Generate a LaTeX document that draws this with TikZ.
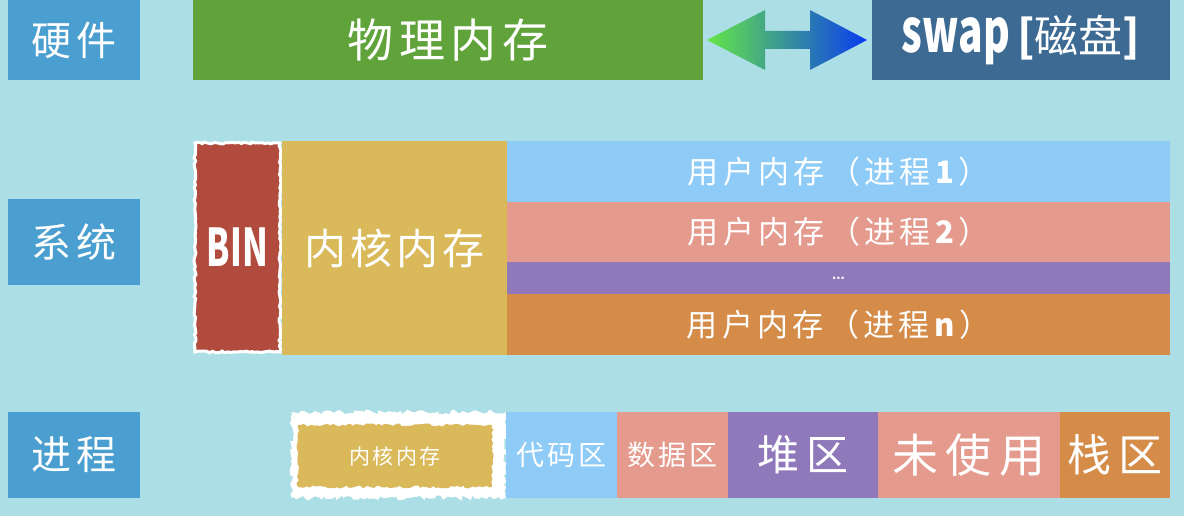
\documentclass[tikz,border=0pt]{standalone}
\usepackage{fontspec}
\newfontfamily\cjk{Noto Sans CJK SC}
\usetikzlibrary{positioning,calc,decorations.pathmorphing}

\definecolor{bgcyan}{RGB}{172,222,229}
\definecolor{tagblue}{RGB}{74,159,208}
\definecolor{physgreen}{RGB}{95,163,58}
\definecolor{swapblue}{RGB}{60,106,147}
\definecolor{binred}{RGB}{177,75,62}
\definecolor{kernyellow}{RGB}{217,185,90}
\definecolor{userblue}{RGB}{142,203,247}
\definecolor{userpink}{RGB}{228,155,142}
\definecolor{userpurple}{RGB}{143,121,186}
\definecolor{userorange}{RGB}{212,140,72}
\definecolor{arrowgreen}{RGB}{100,230,70}
\definecolor{arrowblue}{RGB}{10,60,240}

% size and letter spacing of the chinese labels
\newcommand{\cjksize}[2]{\cjk\fontsize{#1}{#1}\selectfont\addfontfeature{LetterSpace=#2}}

\tikzset{
  block/.style={anchor=north west, inner sep=0pt, outer sep=0pt, text=white},
  tag/.style={block, fill=tagblue, minimum width=132pt, minimum height=86pt, font={\cjksize{40}{12}}},
  stripe/.style={block, minimum width=663pt, font={\cjksize{31}{14}}},
  segment/.style={block, minimum height=86pt},
  rough/.style={decorate, decoration={random steps, segment length=3pt, amplitude=#1}},
}

\begin{document}
\begin{tikzpicture}[x=1pt, y=-1pt]
  \fill[bgcyan] (0,0) rectangle (1184,516);
  \useasboundingbox (0,0) rectangle (1184,516);

  % hardware
  \node[tag, minimum height=80pt] (hw) at (8,0) {硬件};
  \node[block, fill=physgreen, minimum width=510pt, minimum height=80pt, font={\cjksize{46}{12}}] (phys) at (193,0) {物理内存};
  \node[block, fill=swapblue, minimum width=298pt, minimum height=80pt, font={\cjksize{44}{0}}] (swap) at (872,0)
    {{\bfseries\fontsize{60}{60}\selectfont\addfontfeature{FakeStretch=0.68}swap}\,{\bfseries[}磁盘{\bfseries]}};
  \coordinate (al) at ($(phys.east)+(4,0)$);
  \coordinate (ar) at ($(swap.west)+(-5,0)$);
  \shade[left color=arrowgreen, right color=arrowblue]
    (al) -- ++(58,-30) -- ++(0,21) -- ++(45,0) -- ++(0,-21) -- (ar)
    -- ++(-57,30) -- ++(0,-21) -- ++(-45,0) -- ++(0,21) -- cycle;

  % system
  \node[tag] (sys) at (8,199) {系统};
  \node[block, fill=binred, draw=white, line width=3pt, rough=1pt, minimum width=85pt, minimum height=209pt,
    font={\cjk\bfseries\fontsize{52}{52}\selectfont\addfontfeature{FakeStretch=0.65}}] (bin) at (195,143) {BIN};
  \node[block, fill=kernyellow, minimum width=225pt, minimum height=214pt, font={\cjksize{42}{10}}] (kern) at (282,141) {内核内存};
  \node[stripe, fill=userblue, minimum height=61pt] (user1) at (507,141) {用户内存（进程\textbf{1}）};
  \node[stripe, fill=userpink, minimum height=60pt, below=0pt of user1] (user2) {用户内存（进程\textbf{2}）};
  \node[stripe, fill=userpurple, minimum height=32pt, below=0pt of user2, font={\cjk\bfseries\fontsize{12}{12}\selectfont}] (userdots) {...};
  \node[stripe, fill=userorange, minimum height=61pt, below=0pt of userdots] (usern) {用户内存（进程\textbf{n}）};

  % process
  \node[tag] (proc) at (8,412) {进程};
  \node[block, fill=white, rough=2.5pt, minimum width=214pt, minimum height=86pt] (kwhite) at (292,412) {};
  \node[inner sep=0pt, fill=kernyellow, rough=1.5pt, minimum width=194pt, minimum height=62pt, text=white,
    font={\cjksize{21}{12}}] (kmini) at ($(kwhite.center)+(-4,1)$) {内核内存};
  \node[segment, fill=userblue, minimum width=111pt, font={\cjksize{28}{12}}] (code) at (506,412) {代码区};
  \node[segment, fill=userpink, minimum width=111pt, font={\cjksize{28}{12}}, right=0pt of code] (data) {数据区};
  \node[segment, fill=userpurple, minimum width=150pt, font={\cjksize{42}{16}}, right=0pt of data] (heap) {堆区};
  \node[segment, fill=userpink, minimum width=182pt, font={\cjksize{46}{16}}, right=0pt of heap] (unused) {未使用};
  \node[segment, fill=userorange, minimum width=110pt, font={\cjksize{44}{14}}, right=0pt of unused] (stack) {栈区};
\end{tikzpicture}
\end{document}
